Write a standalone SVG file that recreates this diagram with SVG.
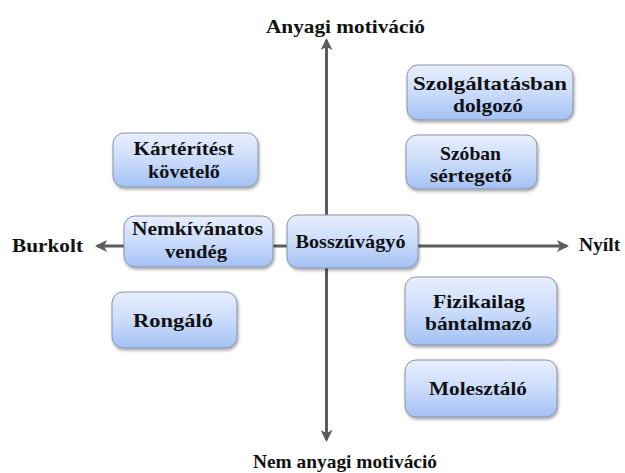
<svg xmlns="http://www.w3.org/2000/svg" width="625" height="473" viewBox="0 0 625 473">
<defs>
<linearGradient id="g" x1="0" y1="0" x2="0" y2="1">
<stop offset="0" stop-color="#e8effd"/>
<stop offset="0.5" stop-color="#cbdcfb"/>
<stop offset="1" stop-color="#a4c1f5"/>
</linearGradient>
<filter id="sh" x="-10%" y="-10%" width="120%" height="130%">
<feDropShadow dx="1" dy="2" stdDeviation="1.5" flood-color="#000" flood-opacity="0.35"/>
</filter>
<marker id="ah" viewBox="0 0 12 12" refX="10" refY="6" markerWidth="12" markerHeight="12" markerUnits="userSpaceOnUse" orient="auto-start-reverse">
<path d="M0,0 L12,6 L0,12 L3,6 Z" fill="#5c5c5c"/>
</marker>
</defs>
<style>
.box{fill:url(#g);stroke:#8793a8;stroke-width:1;filter:url(#sh)}
text{font-family:'Liberation Serif','DejaVu Serif',serif;font-weight:bold;font-size:19.5px;fill:#111;text-anchor:middle}
.ax{stroke:#5c5c5c;stroke-width:3;fill:none}
</style>
<rect width="625" height="473" fill="#fff"/>
<g id="connectors">
<path class="ax" d="M326.5,440 L326.5,40" marker-start="url(#ah)" marker-end="url(#ah)"/>
<path class="ax" d="M97,246 L567,246" marker-start="url(#ah)" marker-end="url(#ah)"/>
</g>
<g id="lbl-top"><text x="345.5" y="33" textLength="159" lengthAdjust="spacingAndGlyphs">Anyagi motiváció</text></g>
<g id="lbl-bottom"><text x="345" y="468" textLength="184" lengthAdjust="spacingAndGlyphs">Nem anyagi motiváció</text></g>
<g id="lbl-left"><text x="47.5" y="252" textLength="71" lengthAdjust="spacingAndGlyphs">Burkolt</text></g>
<g id="lbl-right"><text x="579" y="251" style="text-anchor:start">Nyílt</text></g>
<g id="szolgaltatasban">
<rect class="box" x="407" y="65" width="166" height="55" rx="11"/>
<text x="490" y="90" textLength="154" lengthAdjust="spacingAndGlyphs">Szolgáltatásban</text>
<text x="488" y="112" textLength="70" lengthAdjust="spacingAndGlyphs">dolgozó</text>
</g>
<g id="szoban">
<rect class="box" x="406" y="135" width="131" height="54" rx="11"/>
<text x="470.5" y="160" textLength="61" lengthAdjust="spacingAndGlyphs">Szóban</text>
<text x="471" y="182" textLength="82" lengthAdjust="spacingAndGlyphs">sértegető</text>
</g>
<g id="karteritest">
<rect class="box" x="113" y="133" width="145" height="54" rx="11"/>
<text x="183.5" y="155" textLength="100" lengthAdjust="spacingAndGlyphs">Kártérítést</text>
<text x="184" y="178" textLength="72" lengthAdjust="spacingAndGlyphs">követelő</text>
</g>
<g id="nemkivanatos">
<rect class="box" x="124" y="216" width="149" height="51" rx="11"/>
<text x="197.5" y="235" textLength="131" lengthAdjust="spacingAndGlyphs">Nemkívánatos</text>
<text x="196" y="258" textLength="62" lengthAdjust="spacingAndGlyphs">vendég</text>
</g>
<g id="bosszuvagyo">
<rect class="box" x="287" y="215" width="131" height="53" rx="11"/>
<text x="350.5" y="248" textLength="110" lengthAdjust="spacingAndGlyphs">Bosszúvágyó</text>
</g>
<g id="rongalo">
<rect class="box" x="112" y="292" width="125" height="56" rx="11"/>
<text x="173" y="327" textLength="80" lengthAdjust="spacingAndGlyphs">Rongáló</text>
</g>
<g id="fizikailag">
<rect class="box" x="405" y="277" width="152" height="68" rx="11"/>
<text x="479" y="308" textLength="92" lengthAdjust="spacingAndGlyphs">Fizikailag</text>
<text x="478.5" y="330" textLength="107" lengthAdjust="spacingAndGlyphs">bántalmazó</text>
</g>
<g id="molesztalo">
<rect class="box" x="405" y="360" width="152" height="57" rx="11"/>
<text x="478" y="395" textLength="98" lengthAdjust="spacingAndGlyphs">Molesztáló</text>
</g>
</svg>
